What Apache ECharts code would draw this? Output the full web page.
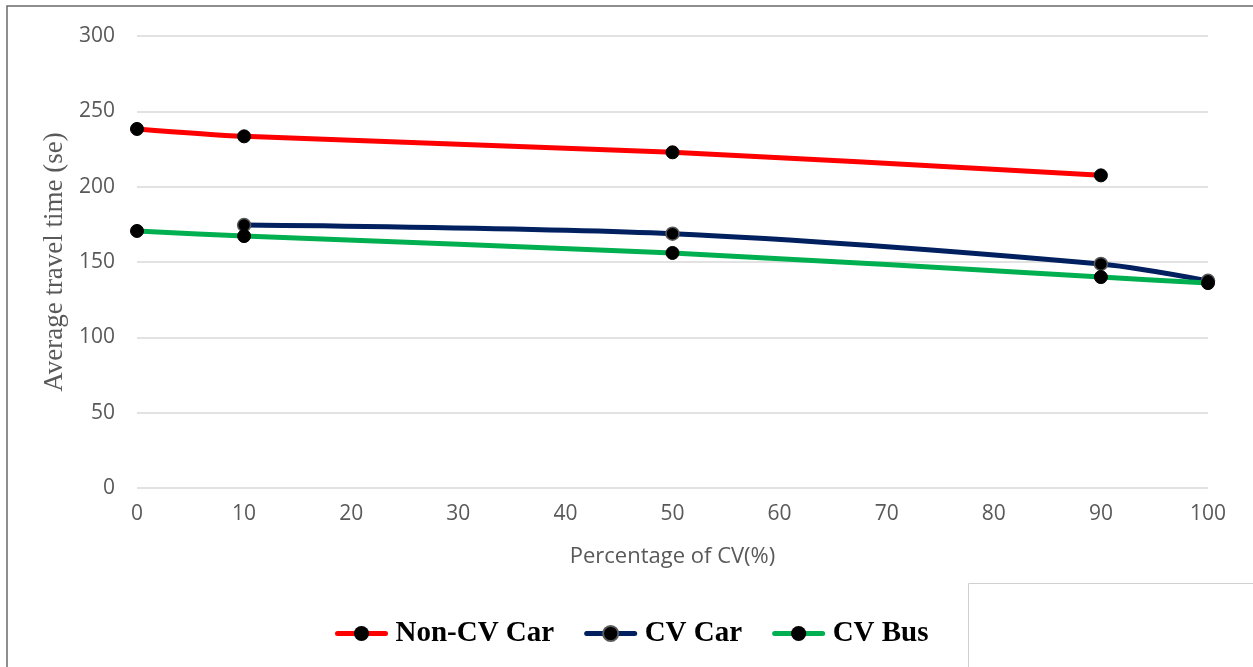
<!DOCTYPE html>
<html>
<head>
<meta charset="utf-8">
<script src="https://cdn.jsdelivr.net/npm/echarts@6/dist/echarts.min.js"></script>
<style>html,body{margin:0;padding:0;background:#fff;}#c{width:1253px;height:667px;}</style>
</head>
<body>
<div id="c"></div>
<script>
const xValues = [0, 10, 50, 90, 100];
const nonCvCar = [[0, 238.3], [10, 233.4], [50, 222.8], [90, 207.5]];
const cvCar = [[10, 174.5], [50, 168.8], [90, 148.7], [100, 137.5]];
const cvBus = [[0, 170.6], [10, 167.2], [50, 156], [90, 140], [100, 136]];
const seriesNames = ['Non-CV Car', 'CV Car', 'CV Bus'];

const chart = echarts.init(document.getElementById('c'));
const tickFont = { color: '#595959', fontSize: 21, fontFamily: 'Open Sans' };
chart.setOption({
  animation: false,
  backgroundColor: '#fff',
  grid: { left: 137, right: 45, top: 36, bottom: 179 },
  xAxis: {
    type: 'value', min: 0, max: 100, interval: 10,
    axisLine: { show: false }, axisTick: { show: false },
    splitLine: { show: false },
    axisLabel: Object.assign({ margin: 16 }, tickFont),
    name: 'Percentage of CV(%)', nameLocation: 'middle', nameGap: 58,
    nameTextStyle: { color: '#595959', fontSize: 22, fontFamily: 'Open Sans' }
  },
  yAxis: {
    type: 'value', min: 0, max: 300, interval: 50,
    axisLine: { show: false }, axisTick: { show: false },
    splitLine: { lineStyle: { color: '#d9d9d9', width: 1.5 } },
    axisLabel: Object.assign({ margin: 22 }, tickFont),
    name: 'Average travel time (se)', nameLocation: 'middle', nameGap: 64,
    nameTextStyle: { color: '#595959', fontSize: 27, fontFamily: 'Liberation Serif' }
  },
  legend: {
    left: 330, top: 614,
    itemWidth: 48, itemHeight: 19, itemGap: 30,
    data: seriesNames,
    lineStyle: { width: 5, cap: 'round' },
    textStyle: { color: '#000', fontSize: 29, fontWeight: 'bold', fontFamily: 'Liberation Serif', padding: [0, 0, 0, 5] }
  },
  series: [
    {
      name: seriesNames[0], type: 'line', data: nonCvCar, smooth: 0.3,
      lineStyle: { color: '#ff0000', width: 5 }, itemStyle: { color: '#000', borderColor: '#000' },
      symbol: 'circle', symbolSize: 13, z: 3
    },
    {
      name: seriesNames[1], type: 'line', data: cvCar, smooth: 0.3,
      lineStyle: { color: '#002060', width: 5 }, itemStyle: { color: '#000', borderColor: '#595959', borderWidth: 1.5 },
      symbol: 'circle', symbolSize: 13, z: 2
    },
    {
      name: seriesNames[2], type: 'line', data: cvBus, smooth: 0.3,
      lineStyle: { color: '#00b050', width: 5 }, itemStyle: { color: '#000', borderColor: '#000' },
      symbol: 'circle', symbolSize: 13, z: 4
    }
  ],
  graphic: [
    { type: 'rect', shape: { x: 7, y: 6, width: 1400, height: 800 }, style: { fill: 'none', stroke: '#6b6b6b', lineWidth: 1.5 }, z: 100 },
    { type: 'rect', shape: { x: 968.5, y: 583.5, width: 400, height: 200 }, style: { fill: '#fff', stroke: '#d0d0d0', lineWidth: 1 }, z: 100 }
  ]
});
</script>
</body>
</html>
